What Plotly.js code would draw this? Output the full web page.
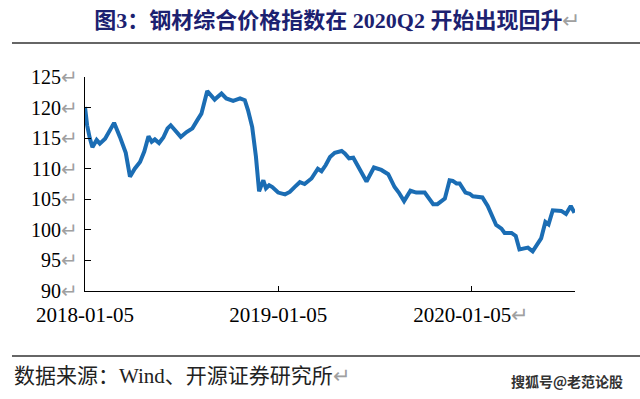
<!DOCTYPE html>
<html>
<head>
<meta charset="utf-8">
<script src="https://cdn.plot.ly/plotly-3.0.1.min.js"></script>
<style>html,body{margin:0;padding:0;background:#fff;}#chart{width:640px;height:399px;}</style>
</head>
<body>
<div id="chart"></div>
<script>
// Weekly steel composite price index
const dates = [
 "2018-01-05","2018-01-09","2018-01-14","2018-01-19","2018-01-27","2018-02-02","2018-02-12","2018-03-01",
 "2018-03-12","2018-03-23","2018-03-31","2018-04-09","2018-04-19","2018-04-27","2018-05-05","2018-05-11",
 "2018-05-17","2018-05-25","2018-06-02","2018-06-10","2018-06-16","2018-06-24","2018-07-05","2018-07-16",
 "2018-07-27","2018-08-05","2018-08-13","2018-08-24","2018-09-07","2018-09-20","2018-09-29","2018-10-12",
 "2018-10-25","2018-11-03","2018-11-09","2018-11-17","2018-11-24","2018-11-30","2018-12-08","2018-12-13",
 "2018-12-19","2018-12-25","2019-01-05","2019-01-18","2019-01-27","2019-02-05","2019-02-15","2019-02-24",
 "2019-03-09","2019-03-21","2019-03-28","2019-04-05","2019-04-13","2019-04-22","2019-05-05","2019-05-11",
 "2019-05-19","2019-05-27","2019-06-05","2019-06-21","2019-07-05","2019-07-19","2019-08-01","2019-08-13",
 "2019-08-21","2019-08-31","2019-09-12","2019-09-23","2019-10-09","2019-10-15","2019-10-25","2019-11-02",
 "2019-11-16","2019-11-25","2019-12-01","2019-12-08","2019-12-14","2019-12-25","2020-01-02","2020-01-08",
 "2020-01-18","2020-01-26","2020-02-05","2020-02-14","2020-02-21","2020-03-02","2020-03-08","2020-03-21",
 "2020-03-29","2020-04-05","2020-04-13","2020-04-21","2020-04-30","2020-05-12","2020-05-16","2020-05-24",
 "2020-05-30","2020-06-07","2020-06-17","2020-06-23","2020-07-02","2020-07-11","2020-07-18"
];
const index = [
 120.1,117.1,115.0,113.5,114.7,114.1,114.9,117.5,
 115.2,112.6,108.7,110.0,111.1,112.8,115.3,114.4,
 114.8,114.2,115.1,116.6,117.1,116.3,115.2,116.0,
 116.6,117.9,119.0,122.7,121.3,122.3,121.5,121.1,
 121.5,121.2,119.6,116.8,112.0,106.3,108.1,106.8,
 107.3,107.0,106.1,105.8,106.2,107.0,107.8,107.5,
 108.4,110.0,109.6,110.6,111.9,112.6,112.9,112.5,
 111.7,111.8,110.3,107.9,110.2,109.8,109.1,107.0,
 106.1,104.7,106.4,106.1,106.1,105.4,104.2,104.2,
 105.1,108.1,108.0,107.6,107.6,106.1,105.9,105.5,
 105.4,105.3,103.9,102.1,100.8,100.2,99.5,99.5,
 99.0,96.8,97.0,97.1,96.5,98.3,98.6,101.3,
 100.9,103.2,103.1,103.1,102.6,103.9,102.8
];
const yTicks = [90,95,100,105,110,115,120,125];
const xTicks = ["2018-01-05","2019-01-05","2020-01-05"];
const xTickLabels = ["2018-01-05","2019-01-05","2020-01-05"];

const RET = "<span style='color:#a0a0a0'>\u21B5</span>";
const serif = "Liberation Serif, Times New Roman, Noto Sans CJK SC, serif";

const trace = {
  x: dates, y: index, type: "scatter", mode: "lines",
  line: {color: "#1b6db4", width: 4, shape: "linear"},
  hoverinfo: "skip"
};

const layout = {
  width: 640, height: 399,
  margin: {l: 85, r: 65, t: 77, b: 108},
  paper_bgcolor: "#fff", plot_bgcolor: "#fff",
  showlegend: false,
  title: {
    text: "<b>图3：钢材综合价格指数在 2020Q2 开始出现回升</b>" + RET,
    font: {family: serif, size: 22, color: "#1c2170"},
    x: 0.019, xanchor: "left", xref: "paper", y: 0.95, yanchor: "middle", yref: "container"
  },
  xaxis: {
    type: "date",
    range: ["2018-01-05", "2020-07-19"],
    tickvals: xTicks,
    ticktext: xTickLabels.map((t, i) => i === xTickLabels.length - 1 ? t + RET : t),
    ticks: "inside", ticklen: 5, tickcolor: "#000", tickwidth: 1,
    showline: true, linecolor: "#000", linewidth: 1,
    showgrid: false, zeroline: false,
    tickfont: {family: serif, size: 21, color: "#000"},
    tickangle: 0,
    ticklabelstandoff: 5
  },
  yaxis: {
    range: [90, 125],
    tickvals: yTicks,
    ticktext: yTicks.map(v => v + RET),
    ticks: "inside", ticklen: 6, tickcolor: "#000", tickwidth: 1,
    showline: true, linecolor: "#000", linewidth: 1,
    showgrid: false, zeroline: false,
    tickfont: {family: serif, size: 20, color: "#000"},
    ticklabelstandoff: 2
  },
  shapes: [
    {type: "line", xref: "paper", yref: "paper", x0: -0.149, x1: 1.133, y0: 1.159, y1: 1.159,
     line: {color: "#666", width: 2}},
    {type: "line", xref: "paper", yref: "paper", x0: -0.149, x1: 1.133, y0: -0.304, y1: -0.304,
     line: {color: "#666", width: 2}}
  ],
  annotations: [
    {text: "数据来源：Wind、开源证券研究所" + RET, xref: "paper", yref: "paper",
     x: -0.149, xanchor: "left", y: -0.397, yanchor: "middle", showarrow: false,
     font: {family: serif, size: 21, color: "#222"}},
    {text: "<b>搜狐号@老范论股</b>", xref: "paper", yref: "paper",
     x: 1.102, xanchor: "right", y: -0.42, yanchor: "middle", showarrow: false,
     font: {family: "Noto Sans CJK SC, sans-serif", size: 14, color: "#333"}}
  ]
};

Plotly.newPlot("chart", [trace], layout, {displayModeBar: false, staticPlot: true});
</script>
</body>
</html>
